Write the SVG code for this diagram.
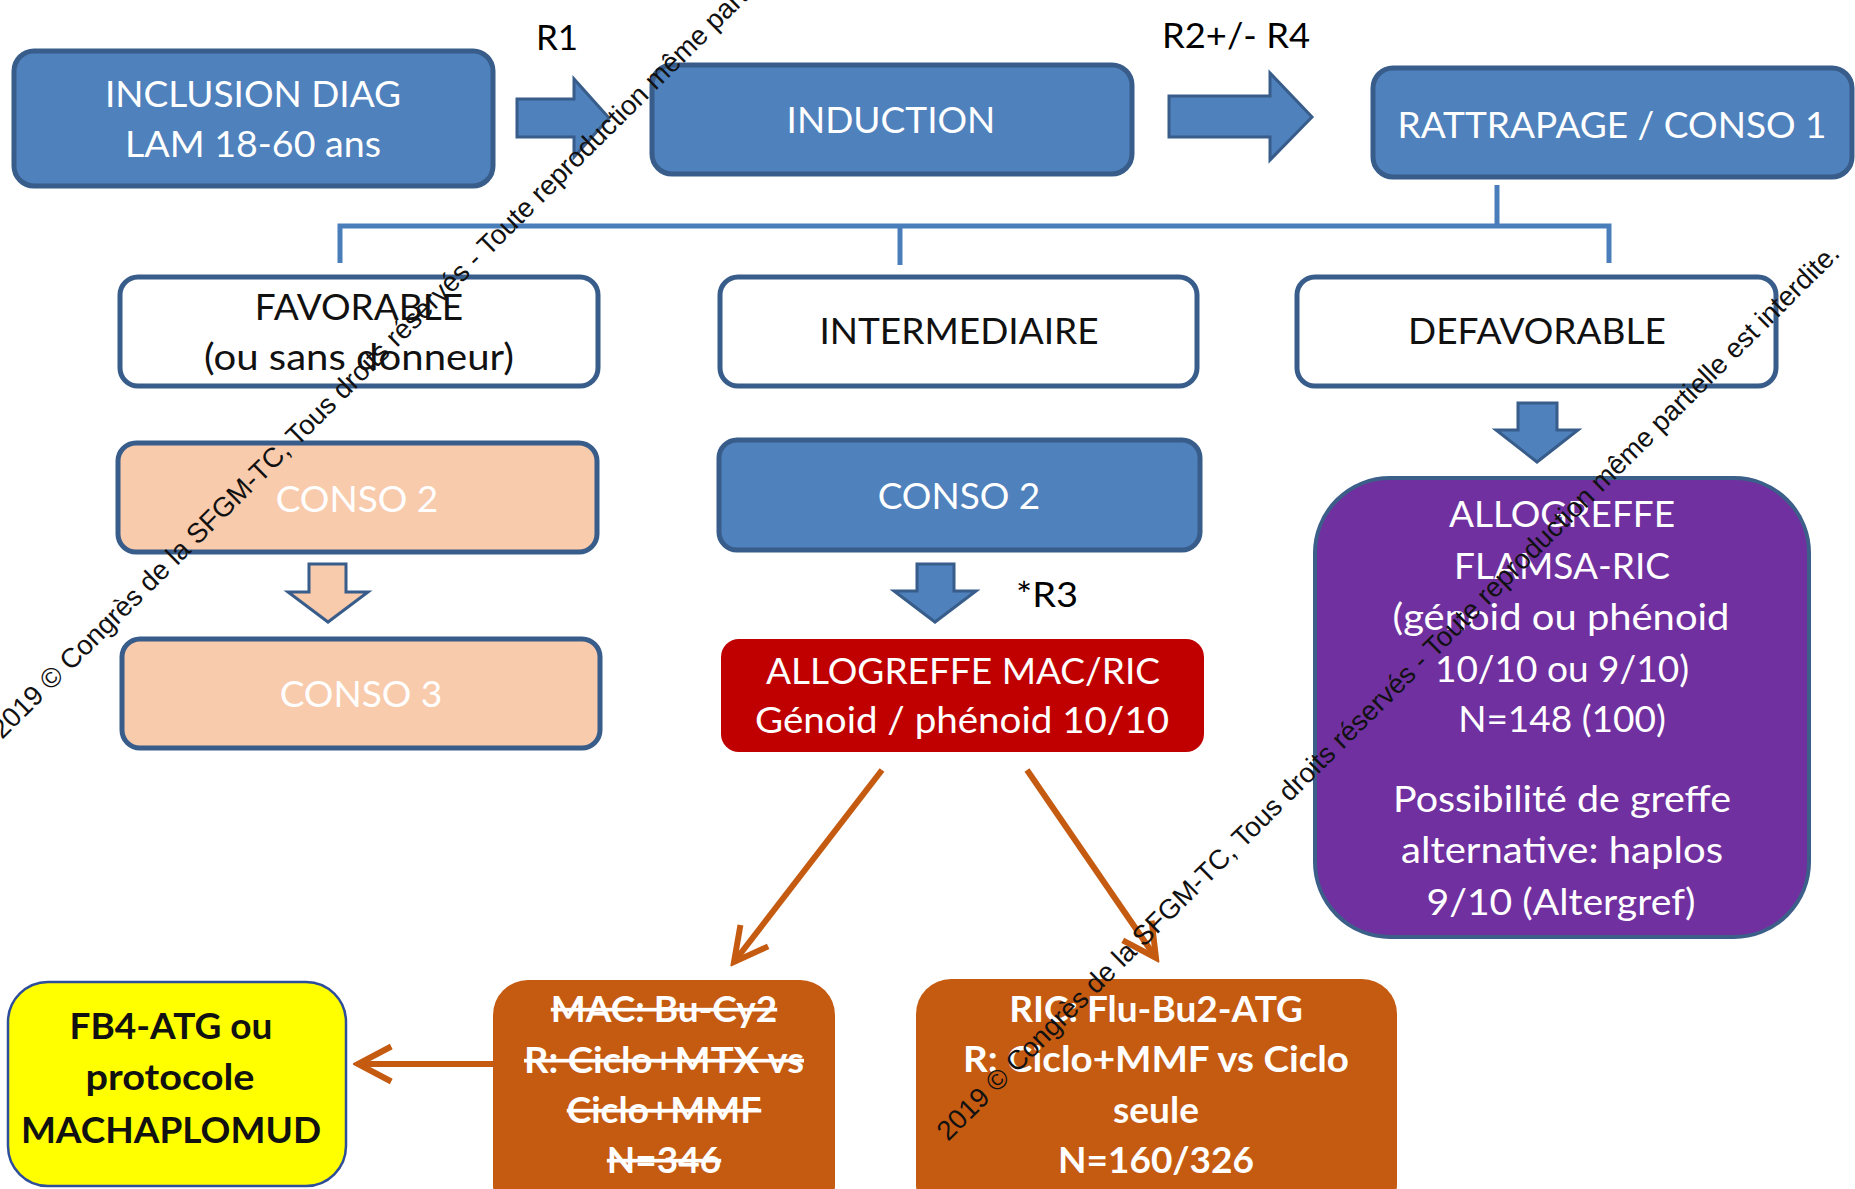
<svg xmlns="http://www.w3.org/2000/svg" width="1855" height="1189" viewBox="0 0 1855 1189">
<defs>
<style>
.blue{fill:#4f81bd;stroke:#385d8a;stroke-width:5}
.white{fill:#ffffff;stroke:#385d8a;stroke-width:5}
.peach{fill:#f8cbad;stroke:#385d8a;stroke-width:5}
.red{fill:#c00000}
.orange{fill:#c55a11}
.purple{fill:#7030a0;stroke:#3c5f8a;stroke-width:4}
.yellow{fill:#ffff00;stroke:#2e4d9a;stroke-width:2.5}
.barrow{fill:#4f81bd;stroke:#385d8a;stroke-width:3}
.parrow{fill:#f8cbad;stroke:#385d8a;stroke-width:3}
.t{font-family:Lato,"Liberation Sans",sans-serif;font-size:37px;text-anchor:middle;fill:#ffffff}
.d{fill:#111111}
.b{font-weight:bold}
.s{text-decoration:line-through}
.lbl{font-family:Lato,"Liberation Sans",sans-serif;font-size:35px;fill:#000000}
.conn{fill:none;stroke:#4a7ebb;stroke-width:5}
.oarr{fill:none;stroke:#c55a11;stroke-width:6}
.wm{font-family:"Liberation Sans",Arial,sans-serif;font-size:27.5px;fill:#111111}
</style>
<marker id="chev" viewBox="0 0 12 12" refX="10.5" refY="6" markerWidth="7" markerHeight="7" orient="auto" markerUnits="strokeWidth">
<path d="M1,1 L10.5,6 L1,11" fill="none" stroke="#c55a11" stroke-width="1.7"/>
</marker>
</defs>
<rect width="1855" height="1189" fill="#ffffff"/>

<g id="connectors">
<path class="conn" d="M1497,185 V226"/>
<path class="conn" d="M340,263 V226 H1609 V263"/>
<path class="conn" d="M900,226 V265"/>
<polygon class="barrow" points="517,99 574,99 574,79 609,118 574,157 574,137 517,137"/>
<polygon class="barrow" points="1169,96 1270,96 1270,73 1312,117 1270,160 1270,137 1169,137"/>
<polygon class="barrow" points="1518,403 1557,403 1557,430 1578,430 1537,462 1496,430 1518,430"/>
<polygon class="parrow" points="309,564 346,564 346,592 368,592 328,622 288,592 309,592"/>
<polygon class="barrow" points="917,564 954,564 954,591 976,591 935,622 894,591 917,591"/>
<line class="oarr" x1="882" y1="770" x2="734" y2="962" marker-end="url(#chev)"/>
<line class="oarr" x1="1027" y1="770" x2="1156" y2="958" marker-end="url(#chev)"/>
<line class="oarr" x1="493" y1="1064" x2="358" y2="1064" marker-end="url(#chev)"/>
<text class="lbl" x="557" y="50" text-anchor="middle">R1</text>
<text class="lbl" x="1162" y="48" textLength="148" lengthAdjust="spacingAndGlyphs">R2+/- R4</text>
<text class="lbl" x="1016" y="607" textLength="62" lengthAdjust="spacingAndGlyphs">*R3</text>
</g>

<g id="inclusion">
<rect class="blue" x="14" y="51" width="479" height="135" rx="20"/>
<text class="t" x="253" y="107">INCLUSION DIAG</text>
<text class="t" x="253" y="157" textLength="256" lengthAdjust="spacingAndGlyphs">LAM 18-60 ans</text>
</g>
<g id="induction">
<rect class="blue" x="652" y="65" width="480" height="109" rx="20"/>
<text class="t" x="891" y="133">INDUCTION</text>
</g>
<g id="rattrapage">
<rect class="blue" x="1373" y="68" width="479" height="109" rx="20"/>
<text class="t" x="1612" y="138">RATTRAPAGE / CONSO 1</text>
</g>
<g id="favorable">
<rect class="white" x="120" y="277" width="478" height="109" rx="18"/>
<text class="t d" x="359" y="320">FAVORABLE</text>
<text class="t d" x="359" y="370" textLength="310" lengthAdjust="spacingAndGlyphs">(ou sans donneur)</text>
</g>
<g id="intermediaire">
<rect class="white" x="720" y="277" width="477" height="109" rx="18"/>
<text class="t d" x="959" y="344">INTERMEDIAIRE</text>
</g>
<g id="defavorable">
<rect class="white" x="1297" y="277" width="479" height="109" rx="18"/>
<text class="t d" x="1537" y="344">DEFAVORABLE</text>
</g>
<g id="conso2-fav">
<rect class="peach" x="118" y="443" width="479" height="109" rx="18"/>
<text class="t" x="357" y="512">CONSO 2</text>
</g>
<g id="conso3-fav">
<rect class="peach" x="122" y="639" width="478" height="109" rx="18"/>
<text class="t" x="361" y="707">CONSO 3</text>
</g>
<g id="conso2-int">
<rect class="blue" x="719" y="440" width="481" height="110" rx="18"/>
<text class="t" x="959" y="509">CONSO 2</text>
</g>
<g id="allo-mac-ric">
<rect class="red" x="721" y="639" width="483" height="113" rx="18"/>
<text class="t" x="963" y="684">ALLOGREFFE MAC/RIC</text>
<text class="t" x="962" y="733" textLength="414" lengthAdjust="spacingAndGlyphs">Génoid / phénoid 10/10</text>
</g>
<g id="allo-flamsa">
<rect class="purple" x="1315" y="478" width="494" height="459" rx="75"/>
<text class="t" x="1562" y="527">ALLOGREFFE</text>
<text class="t" x="1562" y="579">FLAMSA-RIC</text>
<text class="t" x="1561" y="630" textLength="337" lengthAdjust="spacingAndGlyphs">(génoid ou phénoid</text>
<text class="t" x="1562" y="682">10/10 ou 9/10)</text>
<text class="t" x="1562" y="732">N=148 (100)</text>
<text class="t" x="1562" y="812" textLength="338" lengthAdjust="spacingAndGlyphs">Possibilité de greffe</text>
<text class="t" x="1562" y="863" textLength="322" lengthAdjust="spacingAndGlyphs">alternative: haplos</text>
<text class="t" x="1561" y="915" textLength="269" lengthAdjust="spacingAndGlyphs">9/10 (Altergref)</text>
</g>
<g id="mac">
<rect class="orange" x="493" y="980" width="342" height="240" rx="35"/>
<text class="t b s" x="664" y="1022">MAC: Bu-Cy2</text>
<text class="t b s" x="664" y="1073" textLength="280" lengthAdjust="spacingAndGlyphs">R: Ciclo+MTX vs</text>
<text class="t b s" x="664" y="1123">Ciclo+MMF</text>
<text class="t b s" x="664" y="1173">N=346</text>
</g>
<g id="ric">
<rect class="orange" x="916" y="979" width="481" height="240" rx="35"/>
<text class="t b" x="1156" y="1022">RIC: Flu-Bu2-ATG</text>
<text class="t b" x="1156" y="1072" textLength="386" lengthAdjust="spacingAndGlyphs">R: Ciclo+MMF vs Ciclo</text>
<text class="t b" x="1156" y="1123">seule</text>
<text class="t b" x="1156" y="1173">N=160/326</text>
</g>
<g id="fb4">
<rect class="yellow" x="8" y="982" width="338" height="204" rx="40"/>
<text class="t b d" x="171" y="1039">FB4-ATG ou</text>
<text class="t b d" x="170" y="1090" textLength="169" lengthAdjust="spacingAndGlyphs">protocole</text>
<text class="t b d" x="171" y="1143">MACHAPLOMUD</text>
</g>

<g id="watermark">
<text class="wm" transform="translate(2,740) rotate(-44.8)">2019 © Congrès de la SFGM-TC, Tous droits réservés - Toute reproduction même partielle est interdite.</text>
<text class="wm" transform="translate(948,1142) rotate(-44.8)">2019 © Congrès de la SFGM-TC, Tous droits réservés - Toute reproduction même partielle est interdite.</text>
</g>
</svg>
